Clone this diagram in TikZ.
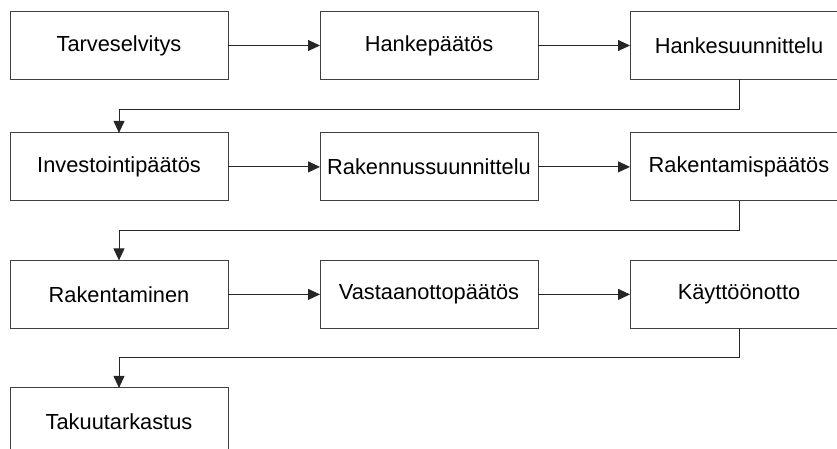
\documentclass[tikz,border=0pt]{standalone}
\usepackage{fontspec}
\setmainfont{Liberation Sans}
\usetikzlibrary{arrows.meta,positioning}

\begin{document}
\begin{tikzpicture}[
    font=\fontsize{21.8}{26}\selectfont,
    node distance=59.5pt and 92pt,
    vaihe/.style={
        rectangle,
        draw=black!75,
        line width=0.9pt,
        minimum width=218pt,
        minimum height=68pt,
        inner sep=2pt,
        outer sep=0pt,
        align=center,
        fill=white
    },
    arrow/.style={-{Triangle[length=12pt,width=11pt]}, line width=0.9pt, draw=black!85}
]

% kuvan rajat
\useasboundingbox (-119pt,45.5pt) rectangle (718pt,-403.5pt);
\clip (-119pt,45.5pt) rectangle (718pt,-403.5pt);

% =========================================================
% RIVI 1
% =========================================================

\node[vaihe] (tarve) at (0,0) {Tarveselvitys};
\node[vaihe, right=of tarve] (hanke) {Hankepäätös};
\node[vaihe, right=of hanke] (hsuunn) {Hankesuunnittelu};

% =========================================================
% RIVI 2
% =========================================================

\node[vaihe, below=53.4pt of tarve] (invest) {Investointipäätös};
\node[vaihe, right=of invest] (rsuunn) {Rakennussuunnittelu};
\node[vaihe, right=of rsuunn] (rpaatos) {Rakentamispäätös};

% =========================================================
% RIVI 3
% =========================================================

\node[vaihe, below=of invest] (rak) {Rakentaminen};
\node[vaihe, right=of rak] (vast) {Vastaanottopäätös};
\node[vaihe, right=of vast] (kaytto) {Käyttöönotto};

% =========================================================
% RIVI 4
% =========================================================

\node[vaihe, below=of rak] (takuu) {Takuutarkastus};

% =========================================================
% NUOLET
% =========================================================

% rivien sisällä
\draw[arrow] (tarve) -- (hanke);
\draw[arrow] (hanke) -- (hsuunn);
\draw[arrow] (invest) -- (rsuunn);
\draw[arrow] (rsuunn) -- (rpaatos);
\draw[arrow] (rak) -- (vast);
\draw[arrow] (vast) -- (kaytto);

% rivien välillä
\draw[arrow] (hsuunn.south) -- ++(0,-29.7pt) -| (invest.north);
\draw[arrow] (rpaatos.south) -- ++(0,-30pt) -| (rak.north);
\draw[arrow] (kaytto.south) -- ++(0,-29.5pt) -| (takuu.north);

\end{tikzpicture}
\end{document}
